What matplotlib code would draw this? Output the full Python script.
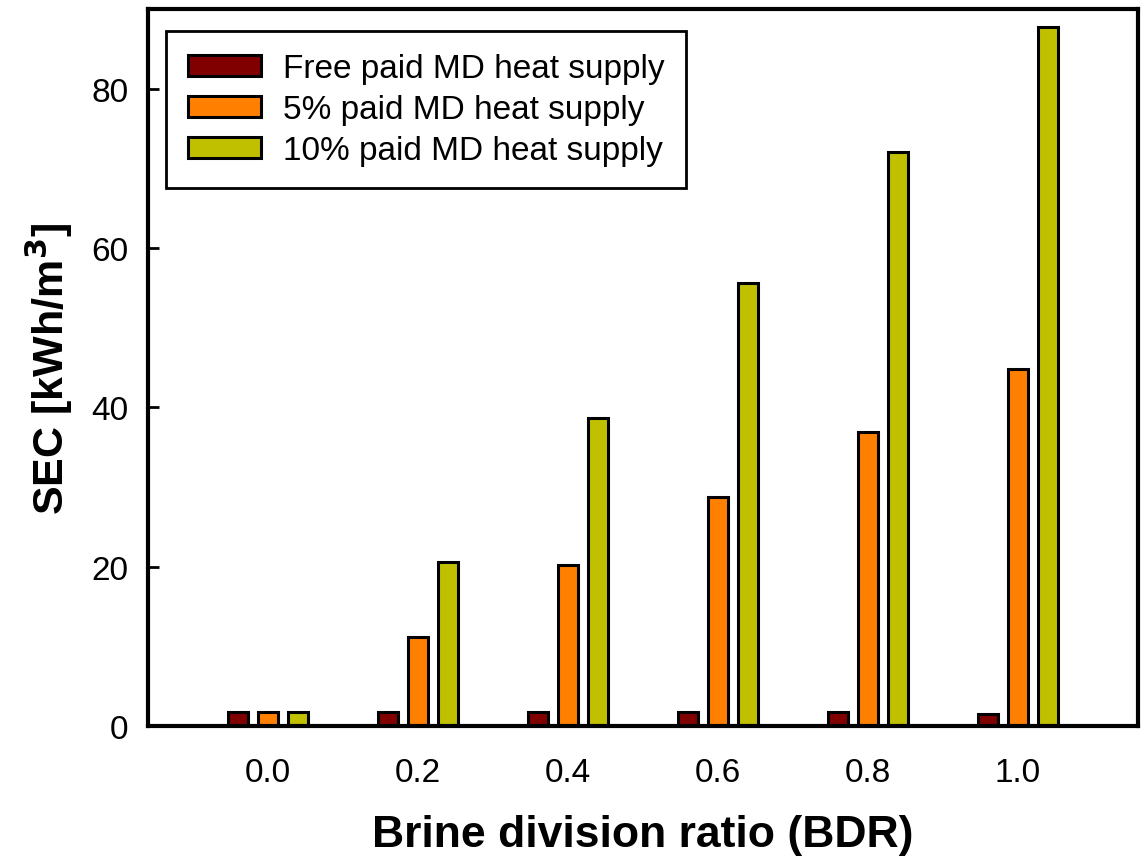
import matplotlib
matplotlib.use('Agg')
import matplotlib.pyplot as plt
import numpy as np

plt.rcParams['font.family'] = ['Liberation Sans', 'DejaVu Sans']

# brine division ratio and SEC values
bdr = [0.0, 0.2, 0.4, 0.6, 0.8, 1.0]
tick_labels = ['0.0', '0.2', '0.4', '0.6', '0.8', '1.0']
sec_free = [1.7, 1.7, 1.7, 1.7, 1.7, 1.5]
sec_5pct = [1.7, 11.2, 20.2, 28.7, 36.9, 44.8]
sec_10pct = [1.7, 20.6, 38.6, 55.6, 72.0, 87.8]
series_names = ['Free paid MD heat supply', '5% paid MD heat supply', '10% paid MD heat supply']
colors = ['#800000', '#FF8000', '#C0C000']

fig = plt.figure(figsize=(11.44, 8.62), dpi=100)
ax = fig.add_axes([0.1294, 0.1566, 0.8654, 0.8318])

x = np.array(bdr)
step = 0.04
w = 0.026
for i, (vals, name, c) in enumerate(zip([sec_free, sec_5pct, sec_10pct], series_names, colors)):
    ax.bar(x + (i - 1) * step, vals, width=w, color=c, edgecolor='black', linewidth=2.2, label=name)

ax.set_xlim(-0.16, 1.16)
ax.set_ylim(0, 90)
ax.set_xticks(bdr)
ax.set_xticklabels(tick_labels)
ax.set_yticks([0, 20, 40, 60, 80])
ax.tick_params(axis='x', length=0, labelsize=24, pad=22)
ax.tick_params(axis='y', direction='in', length=8, width=2, labelsize=24, pad=14)
for s in ax.spines.values():
    s.set_linewidth(3)

ax.set_xlabel('Brine division ratio (BDR)', fontsize=32, fontweight='bold', labelpad=19)
ax.set_ylabel('SEC [kWh/m$^\\mathbf{3}$]', fontsize=31, fontweight='bold', labelpad=12)

leg = ax.legend(loc='upper left', bbox_to_anchor=(0.018, 0.969), borderaxespad=0,
                fontsize=24, fancybox=False, framealpha=1, edgecolor='black',
                handlelength=2.2, handleheight=0.6, labelspacing=0.3,
                borderpad=0.65, handletextpad=0.65)
leg.get_frame().set_linewidth(2)

fig.savefig('out.png', dpi=100)
